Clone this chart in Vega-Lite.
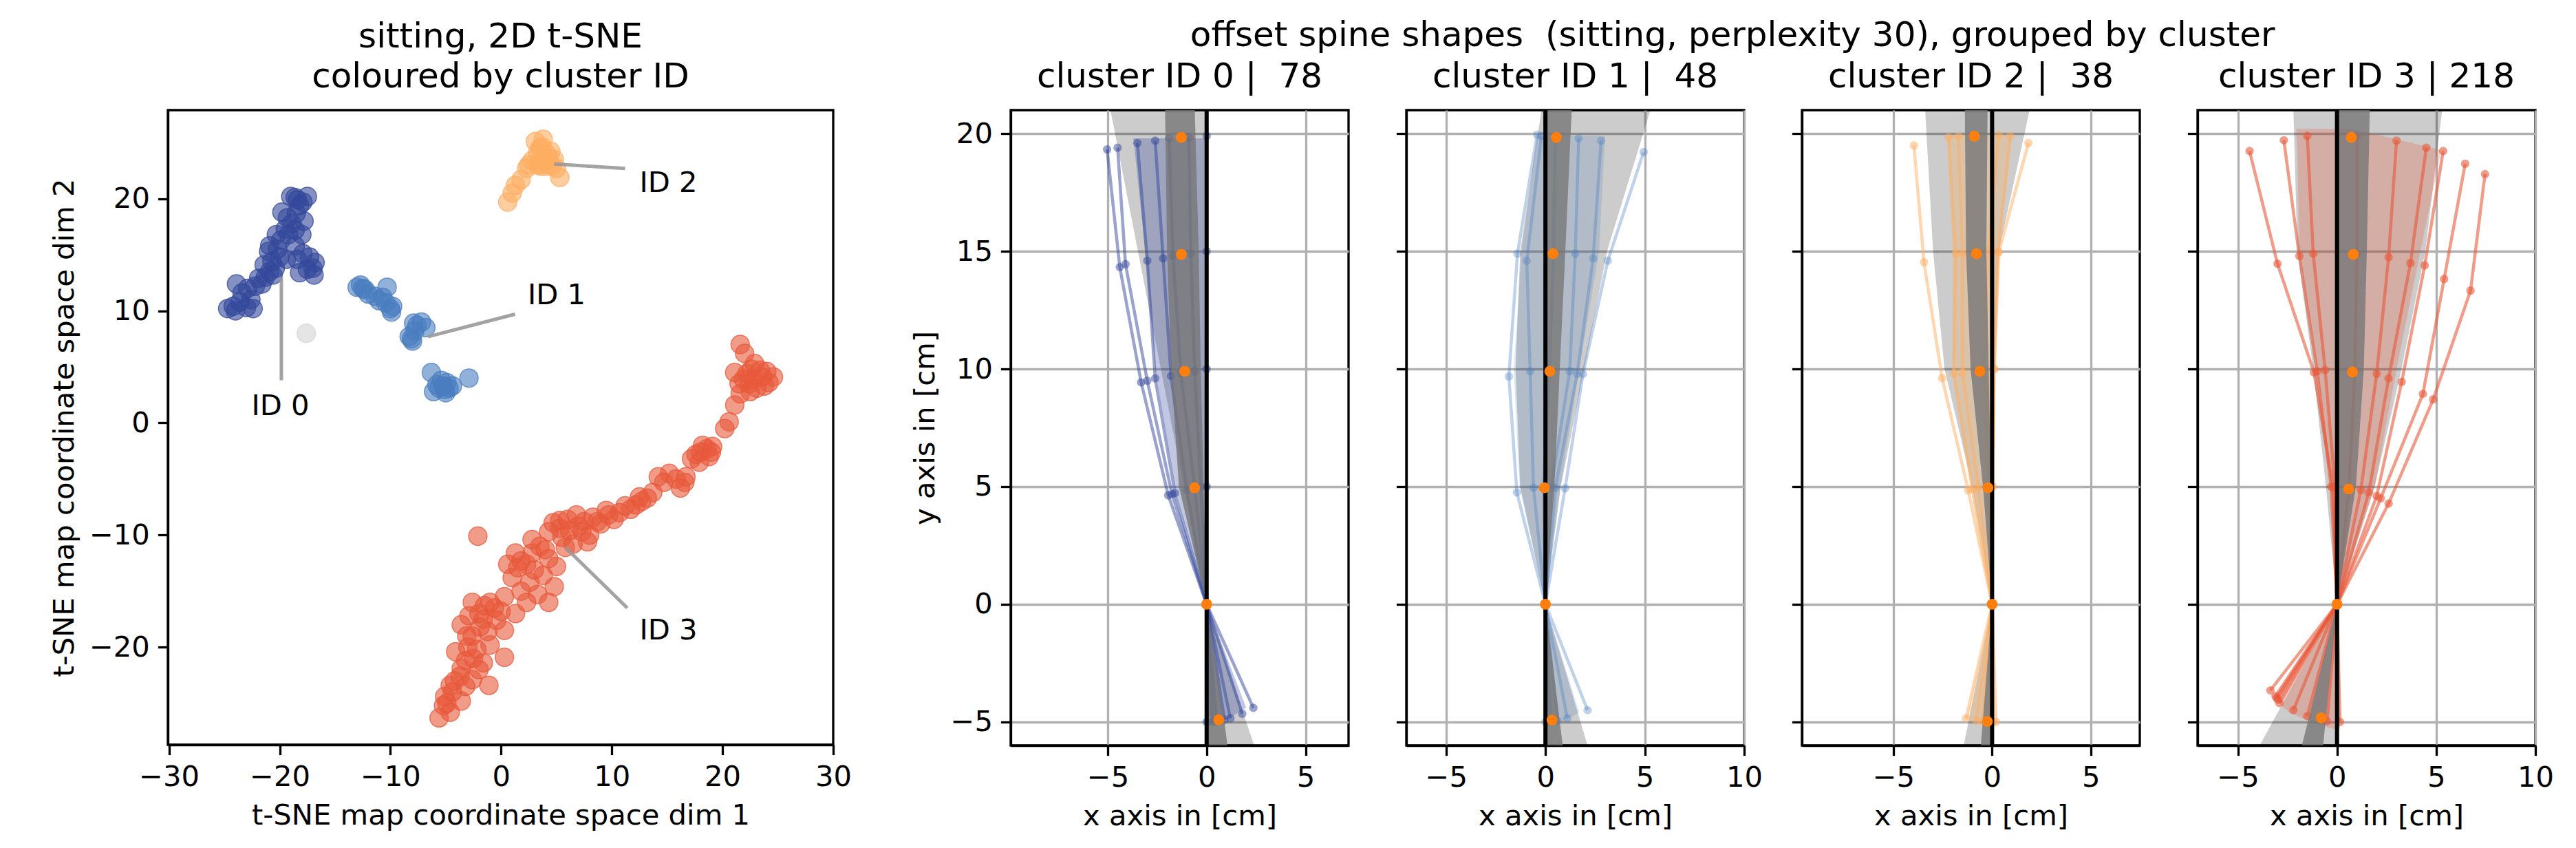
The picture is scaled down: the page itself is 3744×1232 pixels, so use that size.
{
"$schema": "https://vega.github.io/schema/vega-lite/v6.json",
"background": "white",
"autosize": {"type": "pad"},
"padding": {"left": 71, "top": 27, "right": 15, "bottom": 10},
"config": {
  "font": "DejaVu Sans",
  "view": {"stroke": "black", "strokeWidth": 3.3},
  "axis": {"domainColor": "black", "domainWidth": 3.3, "tickColor": "black", "tickWidth": 3.3, "tickSize": 14.6, "labelFontSize": 41.7, "labelColor": "black", "labelFont": "DejaVu Sans", "labelPadding": 12, "titleFontSize": 41.7, "titleFontWeight": "normal", "titleColor": "black", "titleFont": "DejaVu Sans", "titlePadding": 14, "gridColor": "#b0b0b0", "gridWidth": 3.3, "labelFlush": false, "labelOverlap": false},
  "title": {"fontSize": 50, "fontWeight": "normal", "font": "DejaVu Sans", "color": "black", "anchor": "middle"}
},
"datasets": {
  "scatter": [
    {"c":"0","x":-24.7,"y":10.2},{"c":"0","x":-24.2,"y":10.4},{"c":"0","x":-23.0,"y":10.3},{"c":"0","x":-22.4,"y":10.2},{"c":"0","x":-22.6,"y":11.0},{"c":"0","x":-23.9,"y":12.4},{"c":"0","x":-23.4,"y":11.6},{"c":"0","x":-22.9,"y":12.0},{"c":"0","x":-21.9,"y":12.9},{"c":"0","x":-22.2,"y":12.2},{"c":"0","x":-21.3,"y":13.0},{"c":"0","x":-20.9,"y":13.5},{"c":"0","x":-20.4,"y":13.8},{"c":"0","x":-20.7,"y":14.4},{"c":"0","x":-21.0,"y":15.3},{"c":"0","x":-20.9,"y":15.8},{"c":"0","x":-20.2,"y":15.5},{"c":"0","x":-19.9,"y":16.3},{"c":"0","x":-19.5,"y":17.3},{"c":"0","x":-19.2,"y":16.8},{"c":"0","x":-18.9,"y":17.8},{"c":"0","x":-18.5,"y":18.7},{"c":"0","x":-19.3,"y":18.3},{"c":"0","x":-18.2,"y":19.4},{"c":"0","x":-19.0,"y":20.2},{"c":"0","x":-18.6,"y":20.1},{"c":"0","x":-17.5,"y":20.2},{"c":"0","x":-17.9,"y":19.7},{"c":"0","x":-18.0,"y":16.8},{"c":"0","x":-18.6,"y":15.8},{"c":"0","x":-17.9,"y":15.1},{"c":"0","x":-17.0,"y":13.8},{"c":"0","x":-16.8,"y":14.3},{"c":"0","x":-18.2,"y":13.4},{"c":"0","x":-17.5,"y":13.7},{"c":"0","x":-19.4,"y":14.6},{"c":"0","x":-20.0,"y":14.8},
    {"c":"0","x":-24.0,"y":10.0},{"c":"0","x":-23.6,"y":10.8},{"c":"0","x":-21.6,"y":12.4},{"c":"0","x":-20.6,"y":13.2},{"c":"0","x":-21.4,"y":14.1},{"c":"0","x":-20.3,"y":16.8},{"c":"0","x":-19.8,"y":18.8},{"c":"0","x":-18.4,"y":19.9},{"c":"0","x":-17.8,"y":18.0},{"c":"0","x":-18.6,"y":17.2},{"c":"0","x":-17.3,"y":14.8},{"c":"0","x":-16.9,"y":13.2},{"c":"0","x":-18.4,"y":14.6},
    {"c":"1","x":-13.0,"y":12.1},{"c":"1","x":-12.5,"y":12.0},{"c":"1","x":-12.3,"y":11.9},{"c":"1","x":-12.0,"y":11.5},{"c":"1","x":-10.3,"y":12.1},{"c":"1","x":-11.0,"y":10.9},{"c":"1","x":-11.4,"y":11.3},{"c":"1","x":-10.4,"y":10.7},{"c":"1","x":-10.0,"y":10.2},{"c":"1","x":-9.8,"y":10.4},{"c":"1","x":-7.6,"y":8.7},{"c":"1","x":-6.8,"y":8.5},{"c":"1","x":-7.2,"y":9.0},{"c":"1","x":-8.3,"y":7.7},{"c":"1","x":-8.1,"y":7.5},{"c":"1","x":-7.8,"y":8.2},{"c":"1","x":-6.3,"y":4.5},{"c":"1","x":-5.6,"y":3.1},{"c":"1","x":-5.2,"y":3.3},{"c":"1","x":-4.9,"y":3.6},{"c":"1","x":-6.1,"y":2.8},{"c":"1","x":-5.0,"y":2.7},{"c":"1","x":-4.4,"y":3.3},{"c":"1","x":-2.9,"y":4.0},{"c":"1","x":-5.4,"y":3.8},
    {"c":"1","x":-12.7,"y":12.3},{"c":"1","x":-10.7,"y":11.2},{"c":"1","x":-9.9,"y":9.9},{"c":"1","x":-7.9,"y":8.9},{"c":"1","x":-8.0,"y":7.3},{"c":"1","x":-5.8,"y":3.4},{"c":"1","x":-5.1,"y":3.0},{"c":"1","x":-4.7,"y":3.1},
    {"c":"2","x":3.8,"y":25.3},{"c":"2","x":3.3,"y":24.1},{"c":"2","x":3.7,"y":24.6},{"c":"2","x":4.3,"y":23.6},{"c":"2","x":4.5,"y":24.2},{"c":"2","x":5.0,"y":22.7},{"c":"2","x":5.3,"y":21.9},{"c":"2","x":4.0,"y":22.9},{"c":"2","x":2.8,"y":23.4},{"c":"2","x":2.3,"y":22.7},{"c":"2","x":1.8,"y":21.7},{"c":"2","x":1.3,"y":21.2},{"c":"2","x":0.6,"y":19.7},{"c":"2","x":3.6,"y":22.9},{"c":"2","x":3.1,"y":25.1},{"c":"2","x":4.8,"y":23.5},{"c":"2","x":3.3,"y":23.0},
    {"c":"2","x":3.5,"y":24.5},{"c":"2","x":4.1,"y":24.0},{"c":"2","x":3.9,"y":23.3},{"c":"2","x":4.6,"y":22.9},{"c":"2","x":2.5,"y":23.0},{"c":"2","x":1.0,"y":20.5},
    {"c":"-1","x":-17.6,"y":8.0},
    {"c":"3","x":21.6,"y":7.0},{"c":"3","x":22.0,"y":6.2},{"c":"3","x":22.6,"y":4.8},{"c":"3","x":21.1,"y":4.5},{"c":"3","x":23.6,"y":4.1},{"c":"3","x":24.6,"y":4.1},{"c":"3","x":23.1,"y":3.1},{"c":"3","x":21.6,"y":2.6},{"c":"3","x":22.4,"y":3.5},{"c":"3","x":23.8,"y":3.3},{"c":"3","x":22.2,"y":4.4},{"c":"3","x":24.0,"y":4.6},{"c":"3","x":21.1,"y":1.6},{"c":"3","x":20.6,"y":0.1},{"c":"3","x":22.5,"y":2.8},
    {"c":"3","x":21.5,"y":3.5},{"c":"3","x":22.8,"y":3.9},{"c":"3","x":23.4,"y":4.7},{"c":"3","x":24.2,"y":3.6},{"c":"3","x":22.9,"y":5.3},{"c":"3","x":21.9,"y":3.9},{"c":"3","x":20.2,"y":-0.5},
    {"c":"3","x":18.6,"y":-2.3},{"c":"3","x":17.6,"y":-2.8},{"c":"3","x":19.1,"y":-2.1},{"c":"3","x":18.2,"y":-2.0},{"c":"3","x":18.8,"y":-3.0},{"c":"3","x":17.9,"y":-3.5},{"c":"3","x":16.7,"y":-4.8},{"c":"3","x":16.2,"y":-5.8},{"c":"3","x":16.6,"y":-5.3},{"c":"3","x":14.2,"y":-4.8},{"c":"3","x":15.2,"y":-4.5},
    {"c":"3","x":17.2,"y":-3.2},{"c":"3","x":18.0,"y":-2.6},{"c":"3","x":19.0,"y":-2.6},{"c":"3","x":14.7,"y":-5.3},{"c":"3","x":15.8,"y":-5.0},
    {"c":"3","x":13.2,"y":-6.7},{"c":"3","x":12.7,"y":-7.0},{"c":"3","x":11.7,"y":-7.7},{"c":"3","x":12.2,"y":-7.3},{"c":"3","x":10.7,"y":-8.0},{"c":"3","x":9.7,"y":-8.2},{"c":"3","x":8.3,"y":-8.4},{"c":"3","x":9.0,"y":-9.0},{"c":"3","x":6.8,"y":-8.2},{"c":"3","x":7.5,"y":-8.8},{"c":"3","x":5.3,"y":-8.7},{"c":"3","x":7.3,"y":-9.7},{"c":"3","x":8.0,"y":-10.0},{"c":"3","x":6.2,"y":-9.6},{"c":"3","x":4.3,"y":-9.7},{"c":"3","x":5.5,"y":-10.2},{"c":"3","x":2.8,"y":-10.4},{"c":"3","x":3.5,"y":-11.0},{"c":"3","x":1.3,"y":-11.6},{"c":"3","x":1.8,"y":-12.3},{"c":"3","x":2.3,"y":-12.6},{"c":"3","x":4.3,"y":-12.1},{"c":"3","x":5.8,"y":-11.1},{"c":"3","x":7.8,"y":-10.6},{"c":"3","x":6.5,"y":-10.8},{"c":"3","x":3.8,"y":-13.6},{"c":"3","x":4.8,"y":-14.6},{"c":"3","x":2.3,"y":-16.0},{"c":"3","x":1.3,"y":-17.0},{"c":"3","x":3.3,"y":-15.3},{"c":"3","x":4.3,"y":-16.0},{"c":"3","x":0.3,"y":-15.5},{"c":"3","x":0.6,"y":-12.6},{"c":"3","x":1.0,"y":-13.8},
    {"c":"3","x":1.8,"y":-15.0},{"c":"3","x":2.6,"y":-14.2},{"c":"3","x":3.0,"y":-13.1},{"c":"3","x":1.5,"y":-12.9},{"c":"3","x":2.8,"y":-11.6},{"c":"3","x":4.0,"y":-11.3},{"c":"3","x":5.0,"y":-12.8},{"c":"3","x":5.3,"y":-9.4},{"c":"3","x":4.7,"y":-8.9},{"c":"3","x":6.0,"y":-8.6},{"c":"3","x":7.0,"y":-9.2},{"c":"3","x":8.7,"y":-8.8},{"c":"3","x":9.5,"y":-7.8},{"c":"3","x":10.2,"y":-8.6},{"c":"3","x":11.2,"y":-7.4},{"c":"3","x":12.5,"y":-6.6},{"c":"3","x":13.7,"y":-6.2},
    {"c":"3","x":-2.1,"y":-10.1},
    {"c":"3","x":-2.6,"y":-16.0},{"c":"3","x":-0.6,"y":-16.5},{"c":"3","x":-1.6,"y":-17.5},{"c":"3","x":-1.0,"y":-16.0},{"c":"3","x":-2.0,"y":-17.0},{"c":"3","x":-3.6,"y":-18.0},{"c":"3","x":0.3,"y":-18.5},{"c":"3","x":-2.6,"y":-19.0},{"c":"3","x":-1.2,"y":-18.6},{"c":"3","x":-4.1,"y":-20.4},{"c":"3","x":-3.0,"y":-20.0},{"c":"3","x":0.3,"y":-20.9},{"c":"3","x":-1.6,"y":-21.4},{"c":"3","x":-3.6,"y":-21.9},{"c":"3","x":-2.5,"y":-21.0},{"c":"3","x":-1.1,"y":-23.4},{"c":"3","x":-4.6,"y":-23.4},{"c":"3","x":-2.6,"y":-22.9},{"c":"3","x":-3.7,"y":-22.6},{"c":"3","x":-5.1,"y":-24.4},{"c":"3","x":-3.6,"y":-24.8},{"c":"3","x":-4.4,"y":-24.0},{"c":"3","x":-5.6,"y":-26.3},{"c":"3","x":-4.6,"y":-25.8},{"c":"3","x":-5.2,"y":-25.2},
    {"c":"3","x":-4.9,"y":-25.0},{"c":"3","x":-4.2,"y":-23.0},{"c":"3","x":-3.2,"y":-23.5},{"c":"3","x":-2.0,"y":-22.0},{"c":"3","x":-3.2,"y":-21.2},{"c":"3","x":-2.2,"y":-20.2},{"c":"3","x":-1.0,"y":-19.8},{"c":"3","x":-3.1,"y":-19.0},{"c":"3","x":-1.9,"y":-18.2},{"c":"3","x":-0.4,"y":-17.6},{"c":"3","x":-2.9,"y":-17.2},{"c":"3","x":-1.5,"y":-16.3},{"c":"3","x":0.0,"y":-16.8}
  ],
  "annot": [
    {"label":"ID 0","x1":-19.85,"y1":12.9,"x2":-19.85,"y2":3.8,"tx":-22.55,"ty":1.5},
    {"label":"ID 1","x1":-6.6,"y1":7.7,"x2":1.25,"y2":9.7,"tx":2.4,"ty":11.4},
    {"label":"ID 2","x1":4.8,"y1":23.1,"x2":11.2,"y2":22.7,"tx":12.5,"ty":21.4},
    {"label":"ID 3","x1":5.8,"y1":-11.1,"x2":11.4,"y2":-16.5,"tx":12.5,"ty":-18.5}
  ],
  "polys": [
    {"cl":0,"b":"light","k":0,"x":0.05,"y":-6},{"cl":0,"b":"light","k":1,"x":0,"y":0},{"cl":0,"b":"light","k":2,"x":-4.86,"y":21},{"cl":0,"b":"light","k":3,"x":-0.1,"y":21},{"cl":0,"b":"light","k":4,"x":0,"y":0},{"cl":0,"b":"light","k":5,"x":2.4,"y":-6},
    {"cl":0,"b":"dark","k":0,"x":0,"y":-6},{"cl":0,"b":"dark","k":1,"x":0,"y":0},{"cl":0,"b":"dark","k":2,"x":-1.4,"y":5},{"cl":0,"b":"dark","k":3,"x":-1.8,"y":10},{"cl":0,"b":"dark","k":4,"x":-2.0,"y":15},{"cl":0,"b":"dark","k":5,"x":-2.1,"y":21},{"cl":0,"b":"dark","k":6,"x":-0.6,"y":21},{"cl":0,"b":"dark","k":7,"x":-0.4,"y":15},{"cl":0,"b":"dark","k":8,"x":-0.3,"y":10},{"cl":0,"b":"dark","k":9,"x":-0.15,"y":5},{"cl":0,"b":"dark","k":10,"x":0,"y":0},{"cl":0,"b":"dark","k":11,"x":0.9,"y":-5},{"cl":0,"b":"dark","k":12,"x":1.05,"y":-6},
    {"cl":0,"b":"mass","k":0,"x":0,"y":-5.05},{"cl":0,"b":"mass","k":1,"x":0,"y":0},{"cl":0,"b":"mass","k":2,"x":-1.6,"y":5},{"cl":0,"b":"mass","k":3,"x":-2.6,"y":10},{"cl":0,"b":"mass","k":4,"x":-3.1,"y":15},{"cl":0,"b":"mass","k":5,"x":-3.7,"y":19.8},{"cl":0,"b":"mass","k":6,"x":0,"y":19.8},{"cl":0,"b":"mass","k":7,"x":0,"y":0},{"cl":0,"b":"mass","k":8,"x":2.0,"y":-4.4},{"cl":0,"b":"mass","k":9,"x":1.0,"y":-4.9},{"cl":0,"b":"mass","k":10,"x":0.2,"y":-5.05},
    {"cl":1,"b":"light","k":0,"x":0,"y":-6},{"cl":1,"b":"light","k":1,"x":0,"y":0},{"cl":1,"b":"light","k":2,"x":-1.27,"y":5},{"cl":1,"b":"light","k":3,"x":-1.5,"y":10},{"cl":1,"b":"light","k":4,"x":-1.27,"y":15},{"cl":1,"b":"light","k":5,"x":-0.2,"y":21},{"cl":1,"b":"light","k":6,"x":5.28,"y":21},{"cl":1,"b":"light","k":7,"x":3.1,"y":15},{"cl":1,"b":"light","k":8,"x":1.95,"y":10},{"cl":1,"b":"light","k":9,"x":0.77,"y":5},{"cl":1,"b":"light","k":10,"x":0,"y":0},{"cl":1,"b":"light","k":11,"x":2.12,"y":-6},
    {"cl":1,"b":"dark","k":0,"x":-0.05,"y":-6},{"cl":1,"b":"dark","k":1,"x":0,"y":0},{"cl":1,"b":"dark","k":2,"x":-0.03,"y":5},{"cl":1,"b":"dark","k":3,"x":-0.05,"y":10},{"cl":1,"b":"dark","k":4,"x":-0.08,"y":15},{"cl":1,"b":"dark","k":5,"x":-0.1,"y":21},{"cl":1,"b":"dark","k":6,"x":1.32,"y":21},{"cl":1,"b":"dark","k":7,"x":1.0,"y":15},{"cl":1,"b":"dark","k":8,"x":0.72,"y":10},{"cl":1,"b":"dark","k":9,"x":0.45,"y":5},{"cl":1,"b":"dark","k":10,"x":0,"y":0},{"cl":1,"b":"dark","k":11,"x":0.87,"y":-6},
    {"cl":1,"b":"mass","k":0,"x":0,"y":-5.05},{"cl":1,"b":"mass","k":1,"x":0,"y":0},{"cl":1,"b":"mass","k":2,"x":-1.3,"y":5},{"cl":1,"b":"mass","k":3,"x":-1.6,"y":10},{"cl":1,"b":"mass","k":4,"x":-1.2,"y":15},{"cl":1,"b":"mass","k":5,"x":-0.45,"y":19.9},{"cl":1,"b":"mass","k":6,"x":3.0,"y":19.9},{"cl":1,"b":"mass","k":7,"x":2.7,"y":15},{"cl":1,"b":"mass","k":8,"x":1.7,"y":10},{"cl":1,"b":"mass","k":9,"x":0.75,"y":5},{"cl":1,"b":"mass","k":10,"x":0,"y":0},{"cl":1,"b":"mass","k":11,"x":1.7,"y":-4.6},{"cl":1,"b":"mass","k":12,"x":0.8,"y":-5.0},{"cl":1,"b":"mass","k":13,"x":0.2,"y":-5.05},
    {"cl":2,"b":"light","k":0,"x":-1.44,"y":-6},{"cl":2,"b":"light","k":1,"x":0,"y":0},{"cl":2,"b":"light","k":2,"x":-1.0,"y":5},{"cl":2,"b":"light","k":3,"x":-2.41,"y":10},{"cl":2,"b":"light","k":4,"x":-2.99,"y":15},{"cl":2,"b":"light","k":5,"x":-3.39,"y":21},{"cl":2,"b":"light","k":6,"x":1.9,"y":21},{"cl":2,"b":"light","k":7,"x":0.34,"y":15},{"cl":2,"b":"light","k":8,"x":0.1,"y":10},{"cl":2,"b":"light","k":9,"x":0,"y":5},{"cl":2,"b":"light","k":10,"x":0,"y":0},{"cl":2,"b":"light","k":11,"x":0,"y":-6},
    {"cl":2,"b":"dark","k":0,"x":-0.57,"y":-6},{"cl":2,"b":"dark","k":1,"x":0,"y":0},{"cl":2,"b":"dark","k":2,"x":-0.46,"y":5},{"cl":2,"b":"dark","k":3,"x":-1.09,"y":10},{"cl":2,"b":"dark","k":4,"x":-1.32,"y":15},{"cl":2,"b":"dark","k":5,"x":-1.38,"y":21},{"cl":2,"b":"dark","k":6,"x":-0.23,"y":21},{"cl":2,"b":"dark","k":7,"x":-0.29,"y":15},{"cl":2,"b":"dark","k":8,"x":-0.17,"y":10},{"cl":2,"b":"dark","k":9,"x":-0.06,"y":5},{"cl":2,"b":"dark","k":10,"x":0,"y":0},{"cl":2,"b":"dark","k":11,"x":-0.11,"y":-6},
    {"cl":2,"b":"mass","k":0,"x":-0.6,"y":-5.0},{"cl":2,"b":"mass","k":1,"x":-1.3,"y":-4.9},{"cl":2,"b":"mass","k":2,"x":0,"y":0},{"cl":2,"b":"mass","k":3,"x":-1.1,"y":5},{"cl":2,"b":"mass","k":4,"x":-2.0,"y":10},{"cl":2,"b":"mass","k":5,"x":-2.0,"y":15},{"cl":2,"b":"mass","k":6,"x":-2.3,"y":19.95},{"cl":2,"b":"mass","k":7,"x":1.0,"y":19.95},{"cl":2,"b":"mass","k":8,"x":0.3,"y":15},{"cl":2,"b":"mass","k":9,"x":0.1,"y":10},{"cl":2,"b":"mass","k":10,"x":0,"y":5},{"cl":2,"b":"mass","k":11,"x":0,"y":0},{"cl":2,"b":"mass","k":12,"x":0.1,"y":-5.0},
    {"cl":3,"b":"light","k":0,"x":-3.9,"y":-6},{"cl":3,"b":"light","k":1,"x":0,"y":0},{"cl":3,"b":"light","k":2,"x":-0.56,"y":5},{"cl":3,"b":"light","k":3,"x":-1.2,"y":10},{"cl":3,"b":"light","k":4,"x":-2.0,"y":15},{"cl":3,"b":"light","k":5,"x":-2.2,"y":21},{"cl":3,"b":"light","k":6,"x":5.3,"y":21},{"cl":3,"b":"light","k":7,"x":4.45,"y":15},{"cl":3,"b":"light","k":8,"x":3.25,"y":10},{"cl":3,"b":"light","k":9,"x":1.9,"y":5},{"cl":3,"b":"light","k":10,"x":0,"y":0},{"cl":3,"b":"light","k":11,"x":0,"y":-6},
    {"cl":3,"b":"dark","k":0,"x":-1.77,"y":-6},{"cl":3,"b":"dark","k":1,"x":0,"y":0},{"cl":3,"b":"dark","k":2,"x":0,"y":5},{"cl":3,"b":"dark","k":3,"x":-0.1,"y":10},{"cl":3,"b":"dark","k":4,"x":-0.1,"y":15},{"cl":3,"b":"dark","k":5,"x":-0.1,"y":21},{"cl":3,"b":"dark","k":6,"x":1.65,"y":21},{"cl":3,"b":"dark","k":7,"x":1.5,"y":15},{"cl":3,"b":"dark","k":8,"x":1.35,"y":10},{"cl":3,"b":"dark","k":9,"x":0.95,"y":5},{"cl":3,"b":"dark","k":10,"x":0,"y":0},{"cl":3,"b":"dark","k":11,"x":-0.7,"y":-6},
    {"cl":3,"b":"mass","k":0,"x":-0.2,"y":-5.3},{"cl":3,"b":"mass","k":1,"x":-1.3,"y":-5.0},{"cl":3,"b":"mass","k":2,"x":-2.4,"y":-4.6},{"cl":3,"b":"mass","k":3,"x":-3.2,"y":-4.0},{"cl":3,"b":"mass","k":4,"x":0,"y":0},{"cl":3,"b":"mass","k":5,"x":-0.3,"y":5},{"cl":3,"b":"mass","k":6,"x":-1.0,"y":10},{"cl":3,"b":"mass","k":7,"x":-1.9,"y":15},{"cl":3,"b":"mass","k":8,"x":-2.0,"y":19.3},{"cl":3,"b":"mass","k":9,"x":-2.05,"y":20.2},{"cl":3,"b":"mass","k":10,"x":0.8,"y":20.2},{"cl":3,"b":"mass","k":11,"x":5.25,"y":19.3},{"cl":3,"b":"mass","k":12,"x":4.2,"y":15},{"cl":3,"b":"mass","k":13,"x":3.0,"y":10},{"cl":3,"b":"mass","k":14,"x":1.9,"y":5},{"cl":3,"b":"mass","k":15,"x":0,"y":0},{"cl":3,"b":"mass","k":16,"x":0.15,"y":-5.3}
  ],
  "means": [
    {"cl":0,"x":-1.28,"y":19.84},{"cl":0,"x":-1.28,"y":14.87},{"cl":0,"x":-1.11,"y":9.9},{"cl":0,"x":-0.61,"y":4.95},{"cl":0,"x":0,"y":0},{"cl":0,"x":0.61,"y":-4.91},
    {"cl":1,"x":0.55,"y":19.84},{"cl":1,"x":0.38,"y":14.9},{"cl":1,"x":0.22,"y":9.9},{"cl":1,"x":-0.06,"y":4.95},{"cl":1,"x":0,"y":0},{"cl":1,"x":0.33,"y":-4.92},
    {"cl":2,"x":-0.9,"y":19.89},{"cl":2,"x":-0.79,"y":14.9},{"cl":2,"x":-0.62,"y":9.9},{"cl":2,"x":-0.21,"y":4.95},{"cl":2,"x":0,"y":0},{"cl":2,"x":-0.24,"y":-4.98},
    {"cl":3,"x":0.72,"y":19.84},{"cl":3,"x":0.82,"y":14.87},{"cl":3,"x":0.78,"y":9.87},{"cl":3,"x":0.58,"y":4.9},{"cl":3,"x":0,"y":0},{"cl":3,"x":-0.8,"y":-4.83}
  ],
  "spines": [
    {"cl":0,"s":"a","i":0,"x":-5.03,"y":19.33},{"cl":0,"s":"a","i":1,"x":-4.39,"y":14.33},{"cl":0,"s":"a","i":2,"x":-3.31,"y":9.43},{"cl":0,"s":"a","i":3,"x":-1.94,"y":4.63},{"cl":0,"s":"a","i":4,"x":0,"y":0},{"cl":0,"s":"a","i":5,"x":2.36,"y":-4.4},
    {"cl":0,"s":"b","i":0,"x":-4.5,"y":19.4},{"cl":0,"s":"b","i":1,"x":-4.1,"y":14.45},{"cl":0,"s":"b","i":2,"x":-3.0,"y":9.5},{"cl":0,"s":"b","i":3,"x":-1.75,"y":4.68},{"cl":0,"s":"b","i":4,"x":0,"y":0},{"cl":0,"s":"b","i":5,"x":1.8,"y":-4.65},
    {"cl":0,"s":"c","i":0,"x":-3.5,"y":19.6},{"cl":0,"s":"c","i":1,"x":-3.0,"y":14.6},{"cl":0,"s":"c","i":2,"x":-2.6,"y":9.6},{"cl":0,"s":"c","i":3,"x":-1.6,"y":4.72},{"cl":0,"s":"c","i":4,"x":0,"y":0},{"cl":0,"s":"c","i":5,"x":1.2,"y":-4.85},
    {"cl":0,"s":"d","i":0,"x":-2.6,"y":19.7},{"cl":0,"s":"d","i":1,"x":-2.2,"y":14.7},{"cl":0,"s":"d","i":2,"x":-1.8,"y":9.7},{"cl":0,"s":"d","i":3,"x":-1.0,"y":4.85},{"cl":0,"s":"d","i":4,"x":0,"y":0},{"cl":0,"s":"d","i":5,"x":0.9,"y":-4.9},
    {"cl":0,"s":"e","i":0,"x":-1.9,"y":19.8},{"cl":0,"s":"e","i":1,"x":-1.7,"y":14.8},{"cl":0,"s":"e","i":2,"x":-1.3,"y":9.8},{"cl":0,"s":"e","i":3,"x":-0.6,"y":4.95},{"cl":0,"s":"e","i":4,"x":0,"y":0},{"cl":0,"s":"e","i":5,"x":0.5,"y":-4.95},
    {"cl":0,"s":"f","i":0,"x":-0.9,"y":19.85},{"cl":0,"s":"f","i":1,"x":-0.8,"y":14.9},{"cl":0,"s":"f","i":2,"x":-0.6,"y":9.9},{"cl":0,"s":"f","i":3,"x":-0.3,"y":5.0},{"cl":0,"s":"f","i":4,"x":0,"y":0},{"cl":0,"s":"f","i":5,"x":0.3,"y":-5.0},
    {"cl":0,"s":"g","i":0,"x":0,"y":19.9},{"cl":0,"s":"g","i":1,"x":0,"y":15.0},{"cl":0,"s":"g","i":2,"x":0,"y":10.0},{"cl":0,"s":"g","i":3,"x":0,"y":5.0},{"cl":0,"s":"g","i":4,"x":0,"y":0},{"cl":0,"s":"g","i":5,"x":0,"y":-5.0},
    {"cl":1,"s":"a","i":0,"x":4.94,"y":19.22},{"cl":1,"s":"a","i":1,"x":3.14,"y":14.6},{"cl":1,"s":"a","i":2,"x":1.89,"y":9.79},{"cl":1,"s":"a","i":3,"x":0.99,"y":4.93},{"cl":1,"s":"a","i":4,"x":0,"y":0},{"cl":1,"s":"a","i":5,"x":2.12,"y":-4.5},
    {"cl":1,"s":"b","i":0,"x":-0.42,"y":19.96},{"cl":1,"s":"b","i":1,"x":-1.41,"y":14.9},{"cl":1,"s":"b","i":2,"x":-1.84,"y":9.68},{"cl":1,"s":"b","i":3,"x":-1.44,"y":4.75},{"cl":1,"s":"b","i":4,"x":0,"y":0},{"cl":1,"s":"b","i":5,"x":0,"y":-5.0},
    {"cl":1,"s":"c","i":0,"x":2.8,"y":19.7},{"cl":1,"s":"c","i":1,"x":2.4,"y":14.7},{"cl":1,"s":"c","i":2,"x":1.6,"y":9.8},{"cl":1,"s":"c","i":3,"x":0.5,"y":4.95},{"cl":1,"s":"c","i":4,"x":0,"y":0},{"cl":1,"s":"c","i":5,"x":1.1,"y":-4.85},
    {"cl":1,"s":"d","i":0,"x":1.67,"y":19.8},{"cl":1,"s":"d","i":1,"x":1.5,"y":14.9},{"cl":1,"s":"d","i":2,"x":1.22,"y":9.9},{"cl":1,"s":"d","i":3,"x":0.3,"y":5.0},{"cl":1,"s":"d","i":4,"x":0,"y":0},{"cl":1,"s":"d","i":5,"x":0.6,"y":-4.95},
    {"cl":1,"s":"e","i":0,"x":-0.2,"y":19.9},{"cl":1,"s":"e","i":1,"x":-0.94,"y":14.6},{"cl":1,"s":"e","i":2,"x":-0.77,"y":9.9},{"cl":1,"s":"e","i":3,"x":-0.6,"y":4.95},{"cl":1,"s":"e","i":4,"x":0,"y":0},{"cl":1,"s":"e","i":5,"x":0.2,"y":-5.0},
    {"cl":1,"s":"f","i":0,"x":0.5,"y":19.9},{"cl":1,"s":"f","i":1,"x":0.4,"y":14.9},{"cl":1,"s":"f","i":2,"x":0.2,"y":9.9},{"cl":1,"s":"f","i":3,"x":-0.1,"y":5.0},{"cl":1,"s":"f","i":4,"x":0,"y":0},{"cl":1,"s":"f","i":5,"x":0.3,"y":-5.0},
    {"cl":2,"s":"a","i":0,"x":-3.96,"y":19.5},{"cl":2,"s":"a","i":1,"x":-3.45,"y":14.54},{"cl":2,"s":"a","i":2,"x":-2.53,"y":9.61},{"cl":2,"s":"a","i":3,"x":-1.21,"y":4.84},{"cl":2,"s":"a","i":4,"x":0,"y":0},{"cl":2,"s":"a","i":5,"x":-1.32,"y":-4.85},
    {"cl":2,"s":"b","i":0,"x":1.84,"y":19.6},{"cl":2,"s":"b","i":1,"x":0.34,"y":14.98},{"cl":2,"s":"b","i":2,"x":0.11,"y":10.0},{"cl":2,"s":"b","i":3,"x":0.05,"y":5.0},{"cl":2,"s":"b","i":4,"x":0,"y":0},{"cl":2,"s":"b","i":5,"x":0.05,"y":-5.0},
    {"cl":2,"s":"c","i":0,"x":-2.2,"y":19.85},{"cl":2,"s":"c","i":1,"x":-1.84,"y":14.9},{"cl":2,"s":"c","i":2,"x":-1.95,"y":9.8},{"cl":2,"s":"c","i":3,"x":-1.0,"y":4.9},{"cl":2,"s":"c","i":4,"x":0,"y":0},{"cl":2,"s":"c","i":5,"x":-0.8,"y":-4.95},
    {"cl":2,"s":"d","i":0,"x":-1.7,"y":19.9},{"cl":2,"s":"d","i":1,"x":-1.5,"y":14.9},{"cl":2,"s":"d","i":2,"x":-1.5,"y":9.85},{"cl":2,"s":"d","i":3,"x":-0.7,"y":4.95},{"cl":2,"s":"d","i":4,"x":0,"y":0},{"cl":2,"s":"d","i":5,"x":-0.5,"y":-5.0},
    {"cl":2,"s":"e","i":0,"x":0.34,"y":19.95},{"cl":2,"s":"e","i":1,"x":-0.2,"y":15.0},{"cl":2,"s":"e","i":2,"x":-0.4,"y":9.95},{"cl":2,"s":"e","i":3,"x":-0.2,"y":5.0},{"cl":2,"s":"e","i":4,"x":0,"y":0},{"cl":2,"s":"e","i":5,"x":0.2,"y":-5.0},
    {"cl":2,"s":"f","i":0,"x":0.92,"y":19.9},{"cl":2,"s":"f","i":1,"x":0.3,"y":14.95},{"cl":2,"s":"f","i":2,"x":0.1,"y":10.0},{"cl":2,"s":"f","i":3,"x":0.0,"y":5.0},{"cl":2,"s":"f","i":4,"x":0,"y":0},{"cl":2,"s":"f","i":5,"x":-0.1,"y":-5.0},
    {"cl":3,"s":"a","i":0,"x":-4.41,"y":19.26},{"cl":3,"s":"a","i":1,"x":-3.0,"y":14.47},{"cl":3,"s":"a","i":2,"x":-1.16,"y":9.85},{"cl":3,"s":"a","i":3,"x":-0.2,"y":4.95},{"cl":3,"s":"a","i":4,"x":0,"y":0},{"cl":3,"s":"a","i":5,"x":-3.36,"y":-3.66},
    {"cl":3,"s":"b","i":0,"x":-2.68,"y":19.72},{"cl":3,"s":"b","i":1,"x":-1.9,"y":14.8},{"cl":3,"s":"b","i":2,"x":-1.0,"y":9.9},{"cl":3,"s":"b","i":3,"x":-0.3,"y":5.0},{"cl":3,"s":"b","i":4,"x":0,"y":0},{"cl":3,"s":"b","i":5,"x":-3.04,"y":-3.98},
    {"cl":3,"s":"c","i":0,"x":5.35,"y":19.26},{"cl":3,"s":"c","i":1,"x":4.42,"y":14.4},{"cl":3,"s":"c","i":2,"x":3.26,"y":9.45},{"cl":3,"s":"c","i":3,"x":2.0,"y":4.6},{"cl":3,"s":"c","i":4,"x":0,"y":0},{"cl":3,"s":"c","i":5,"x":-2.98,"y":-4.05},
    {"cl":3,"s":"d","i":0,"x":6.46,"y":18.72},{"cl":3,"s":"d","i":1,"x":5.4,"y":13.82},{"cl":3,"s":"d","i":2,"x":4.33,"y":8.94},{"cl":3,"s":"d","i":3,"x":2.2,"y":4.5},{"cl":3,"s":"d","i":4,"x":0,"y":0},{"cl":3,"s":"d","i":5,"x":-2.9,"y":-4.2},
    {"cl":3,"s":"e","i":0,"x":7.46,"y":18.28},{"cl":3,"s":"e","i":1,"x":6.73,"y":13.33},{"cl":3,"s":"e","i":2,"x":4.85,"y":8.71},{"cl":3,"s":"e","i":3,"x":2.6,"y":4.28},{"cl":3,"s":"e","i":4,"x":0,"y":0},{"cl":3,"s":"e","i":5,"x":-3.1,"y":-3.9},
    {"cl":3,"s":"f","i":0,"x":-1.5,"y":19.9},{"cl":3,"s":"f","i":1,"x":-1.2,"y":14.9},{"cl":3,"s":"f","i":2,"x":-0.6,"y":9.95},{"cl":3,"s":"f","i":3,"x":-0.1,"y":5.0},{"cl":3,"s":"f","i":4,"x":0,"y":0},{"cl":3,"s":"f","i":5,"x":-1.5,"y":-4.75},
    {"cl":3,"s":"g","i":0,"x":1.0,"y":19.9},{"cl":3,"s":"g","i":1,"x":1.0,"y":14.9},{"cl":3,"s":"g","i":2,"x":0.9,"y":9.9},{"cl":3,"s":"g","i":3,"x":0.6,"y":4.95},{"cl":3,"s":"g","i":4,"x":0,"y":0},{"cl":3,"s":"g","i":5,"x":-0.5,"y":-4.97},
    {"cl":3,"s":"h","i":0,"x":3.0,"y":19.7},{"cl":3,"s":"h","i":1,"x":2.6,"y":14.75},{"cl":3,"s":"h","i":2,"x":2.0,"y":9.8},{"cl":3,"s":"h","i":3,"x":1.2,"y":4.85},{"cl":3,"s":"h","i":4,"x":0,"y":0},{"cl":3,"s":"h","i":5,"x":-2.2,"y":-4.5},
    {"cl":3,"s":"i","i":0,"x":4.5,"y":19.4},{"cl":3,"s":"i","i":1,"x":3.7,"y":14.5},{"cl":3,"s":"i","i":2,"x":2.6,"y":9.6},{"cl":3,"s":"i","i":3,"x":1.6,"y":4.75},{"cl":3,"s":"i","i":4,"x":0,"y":0},{"cl":3,"s":"i","i":5,"x":0.15,"y":-5.0}
  ]
},
"spacing": 258,
"bounds": "flush",
"hconcat": [
  {
    "width": 967, "height": 922,
    "title": {"text": ["sitting, 2D t-SNE", "coloured by cluster ID"], "lineHeight": 58, "baseline": "bottom", "offset": -27},
    "layer": [
      {"data": {"name": "scatter"},
       "mark": {"type": "circle", "size": 720, "fillOpacity": 0.6, "strokeOpacity": 0.75, "strokeWidth": 1.5, "clip": true},
       "encoding": {
         "x": {"field": "x", "type": "quantitative", "scale": {"domain": [-30.1, 30], "nice": false, "zero": false}, "axis": {"values": [-30,-20,-10,0,10,20,30], "grid": false, "title": "t-SNE map coordinate space dim 1"}},
         "y": {"field": "y", "type": "quantitative", "scale": {"domain": [-28.7, 27.9], "nice": false, "zero": false}, "axis": {"values": [-20,-10,0,10,20], "grid": false, "title": "t-SNE map coordinate space dim 2"}},
         "color": {"field": "c", "type": "nominal", "scale": {"domain": ["-1","0","1","2","3"], "range": ["#d4d4d4","#34489b","#4a7dbf","#fdae61","#e8583a"]}, "legend": null},
         "stroke": {"field": "c", "type": "nominal", "scale": {"domain": ["-1","0","1","2","3"], "range": ["#d4d4d4","#34489b","#4a7dbf","#fdae61","#e8583a"]}, "legend": null}
       }},
      {"data": {"name": "annot"},
       "mark": {"type": "rule", "color": "#999999", "strokeWidth": 5, "opacity": 0.9},
       "encoding": {"x": {"field": "x1", "type": "quantitative"}, "y": {"field": "y1", "type": "quantitative"}, "x2": {"field": "x2"}, "y2": {"field": "y2"}}},
      {"data": {"name": "annot"},
       "mark": {"type": "text", "align": "left", "baseline": "middle", "fontSize": 41.7, "color": "black", "font": "DejaVu Sans"},
       "encoding": {"x": {"field": "tx", "type": "quantitative"}, "y": {"field": "ty", "type": "quantitative"}, "text": {"field": "label"}}}
    ]
  },
  {
    "title": {"text": "offset spine shapes \u00a0(sitting, perplexity 30), grouped by cluster", "baseline": "bottom", "offset": -42},
    "spacing": 84,
    "bounds": "flush",
    "hconcat": [
      {
        "width": 491, "height": 923,
        "title": {"text": "cluster ID 0 |\u00a0 78", "baseline": "bottom", "offset": -27},
        "layer": [
          {"data": {"name": "polys"}, "transform": [{"filter": "datum.cl == 0 && datum.b == 'light'"}],
           "mark": {"type": "line", "interpolate": "linear-closed", "fill": "#000000", "fillOpacity": 0.2, "strokeOpacity": 0, "strokeWidth": 0, "clip": true},
           "encoding": {
             "y": {"field": "y", "type": "quantitative", "scale": {"domain": [-6, 21], "nice": false, "zero": false}, "axis": {"values": [-5,0,5,10,15,20], "grid": true, "title": "y axis in [cm]"}},
             "x": {"field": "x", "type": "quantitative", "scale": {"domain": [-9.9, 7.17], "nice": false, "zero": false}, "axis": {"values": [-5,0,5], "grid": true, "title": "x axis in [cm]"}},
             "order": {"field": "k", "type": "quantitative"}}},
          {"data": {"name": "polys"}, "transform": [{"filter": "datum.cl == 0 && datum.b == 'mass'"}],
           "mark": {"type": "line", "interpolate": "linear-closed", "fill": "#34489b", "fillOpacity": 0.3, "strokeOpacity": 0, "strokeWidth": 0, "clip": true},
           "encoding": {"y": {"field": "y", "type": "quantitative"}, "x": {"field": "x", "type": "quantitative"}, "order": {"field": "k", "type": "quantitative"}}},
          {"data": {"name": "spines"}, "transform": [{"filter": "datum.cl == 0"}],
           "mark": {"type": "line", "color": "#34489b", "opacity": 0.5, "strokeWidth": 4.5, "clip": true, "point": {"filled": true, "size": 150, "color": "#34489b", "opacity": 0.5}},
           "encoding": {"x": {"field": "x", "type": "quantitative"}, "y": {"field": "y", "type": "quantitative"}, "detail": {"field": "s"}, "order": {"field": "i", "type": "quantitative"}}},
          {"data": {"name": "polys"}, "transform": [{"filter": "datum.cl == 0 && datum.b == 'dark'"}],
           "mark": {"type": "line", "interpolate": "linear-closed", "fill": "#777777", "fillOpacity": 0.8, "strokeOpacity": 0, "strokeWidth": 0, "clip": true},
           "encoding": {"y": {"field": "y", "type": "quantitative"}, "x": {"field": "x", "type": "quantitative"}, "order": {"field": "k", "type": "quantitative"}}},
          {"data": {"values": [{}]}, "mark": {"type": "rule", "color": "black", "strokeWidth": 6, "clip": true}, "encoding": {"x": {"datum": 0}}},
          {"data": {"name": "means"}, "transform": [{"filter": "datum.cl == 0"}],
           "mark": {"type": "circle", "color": "#ff7f0e", "opacity": 1, "size": 250, "clip": true},
           "encoding": {"x": {"field": "x", "type": "quantitative"}, "y": {"field": "y", "type": "quantitative"}}}
        ]
      },
      {
        "width": 491, "height": 923,
        "title": {"text": "cluster ID 1 |\u00a0 48", "baseline": "bottom", "offset": -27},
        "layer": [
          {"data": {"name": "polys"}, "transform": [{"filter": "datum.cl == 1 && datum.b == 'light'"}],
           "mark": {"type": "line", "interpolate": "linear-closed", "fill": "#000000", "fillOpacity": 0.2, "strokeOpacity": 0, "strokeWidth": 0, "clip": true},
           "encoding": {
             "y": {"field": "y", "type": "quantitative", "scale": {"domain": [-6, 21], "nice": false, "zero": false}, "axis": {"values": [-5,0,5,10,15,20], "grid": true, "labels": false, "title": null}},
             "x": {"field": "x", "type": "quantitative", "scale": {"domain": [-7, 10], "nice": false, "zero": false}, "axis": {"values": [-5,0,5,10], "grid": true, "title": "x axis in [cm]"}},
             "order": {"field": "k", "type": "quantitative"}}},
          {"data": {"name": "polys"}, "transform": [{"filter": "datum.cl == 1 && datum.b == 'mass'"}],
           "mark": {"type": "line", "interpolate": "linear-closed", "fill": "#4a7dbf", "fillOpacity": 0.2, "strokeOpacity": 0, "strokeWidth": 0, "clip": true},
           "encoding": {"y": {"field": "y", "type": "quantitative"}, "x": {"field": "x", "type": "quantitative"}, "order": {"field": "k", "type": "quantitative"}}},
          {"data": {"name": "spines"}, "transform": [{"filter": "datum.cl == 1"}],
           "mark": {"type": "line", "color": "#4a7dbf", "opacity": 0.35, "strokeWidth": 4.5, "clip": true, "point": {"filled": true, "size": 150, "color": "#4a7dbf", "opacity": 0.35}},
           "encoding": {"x": {"field": "x", "type": "quantitative"}, "y": {"field": "y", "type": "quantitative"}, "detail": {"field": "s"}, "order": {"field": "i", "type": "quantitative"}}},
          {"data": {"name": "polys"}, "transform": [{"filter": "datum.cl == 1 && datum.b == 'dark'"}],
           "mark": {"type": "line", "interpolate": "linear-closed", "fill": "#777777", "fillOpacity": 0.8, "strokeOpacity": 0, "strokeWidth": 0, "clip": true},
           "encoding": {"y": {"field": "y", "type": "quantitative"}, "x": {"field": "x", "type": "quantitative"}, "order": {"field": "k", "type": "quantitative"}}},
          {"data": {"values": [{}]}, "mark": {"type": "rule", "color": "black", "strokeWidth": 6, "clip": true}, "encoding": {"x": {"datum": 0}}},
          {"data": {"name": "means"}, "transform": [{"filter": "datum.cl == 1"}],
           "mark": {"type": "circle", "color": "#ff7f0e", "opacity": 1, "size": 250, "clip": true},
           "encoding": {"x": {"field": "x", "type": "quantitative"}, "y": {"field": "y", "type": "quantitative"}}}
        ]
      },
      {
        "width": 491, "height": 923,
        "title": {"text": "cluster ID 2 |\u00a0 38", "baseline": "bottom", "offset": -27},
        "layer": [
          {"data": {"name": "polys"}, "transform": [{"filter": "datum.cl == 2 && datum.b == 'light'"}],
           "mark": {"type": "line", "interpolate": "linear-closed", "fill": "#000000", "fillOpacity": 0.2, "strokeOpacity": 0, "strokeWidth": 0, "clip": true},
           "encoding": {
             "y": {"field": "y", "type": "quantitative", "scale": {"domain": [-6, 21], "nice": false, "zero": false}, "axis": {"values": [-5,0,5,10,15,20], "grid": true, "labels": false, "title": null}},
             "x": {"field": "x", "type": "quantitative", "scale": {"domain": [-9.63, 7.48], "nice": false, "zero": false}, "axis": {"values": [-5,0,5], "grid": true, "title": "x axis in [cm]"}},
             "order": {"field": "k", "type": "quantitative"}}},
          {"data": {"name": "polys"}, "transform": [{"filter": "datum.cl == 2 && datum.b == 'mass'"}],
           "mark": {"type": "line", "interpolate": "linear-closed", "fill": "#fdae61", "fillOpacity": 0.3, "strokeOpacity": 0, "strokeWidth": 0, "clip": true},
           "encoding": {"y": {"field": "y", "type": "quantitative"}, "x": {"field": "x", "type": "quantitative"}, "order": {"field": "k", "type": "quantitative"}}},
          {"data": {"name": "spines"}, "transform": [{"filter": "datum.cl == 2"}],
           "mark": {"type": "line", "color": "#fdae61", "opacity": 0.5, "strokeWidth": 4.5, "clip": true, "point": {"filled": true, "size": 150, "color": "#fdae61", "opacity": 0.5}},
           "encoding": {"x": {"field": "x", "type": "quantitative"}, "y": {"field": "y", "type": "quantitative"}, "detail": {"field": "s"}, "order": {"field": "i", "type": "quantitative"}}},
          {"data": {"name": "polys"}, "transform": [{"filter": "datum.cl == 2 && datum.b == 'dark'"}],
           "mark": {"type": "line", "interpolate": "linear-closed", "fill": "#777777", "fillOpacity": 0.8, "strokeOpacity": 0, "strokeWidth": 0, "clip": true},
           "encoding": {"y": {"field": "y", "type": "quantitative"}, "x": {"field": "x", "type": "quantitative"}, "order": {"field": "k", "type": "quantitative"}}},
          {"data": {"values": [{}]}, "mark": {"type": "rule", "color": "black", "strokeWidth": 6, "clip": true}, "encoding": {"x": {"datum": 0}}},
          {"data": {"name": "means"}, "transform": [{"filter": "datum.cl == 2"}],
           "mark": {"type": "circle", "color": "#ff7f0e", "opacity": 1, "size": 250, "clip": true},
           "encoding": {"x": {"field": "x", "type": "quantitative"}, "y": {"field": "y", "type": "quantitative"}}}
        ]
      },
      {
        "width": 491, "height": 923,
        "title": {"text": "cluster ID 3 | 218", "baseline": "bottom", "offset": -27},
        "layer": [
          {"data": {"name": "polys"}, "transform": [{"filter": "datum.cl == 3 && datum.b == 'light'"}],
           "mark": {"type": "line", "interpolate": "linear-closed", "fill": "#000000", "fillOpacity": 0.2, "strokeOpacity": 0, "strokeWidth": 0, "clip": true},
           "encoding": {
             "y": {"field": "y", "type": "quantitative", "scale": {"domain": [-6, 21], "nice": false, "zero": false}, "axis": {"values": [-5,0,5,10,15,20], "grid": true, "labels": false, "title": null}},
             "x": {"field": "x", "type": "quantitative", "scale": {"domain": [-7.03, 10], "nice": false, "zero": false}, "axis": {"values": [-5,0,5,10], "grid": true, "title": "x axis in [cm]"}},
             "order": {"field": "k", "type": "quantitative"}}},
          {"data": {"name": "polys"}, "transform": [{"filter": "datum.cl == 3 && datum.b == 'mass'"}],
           "mark": {"type": "line", "interpolate": "linear-closed", "fill": "#e8583a", "fillOpacity": 0.27, "strokeOpacity": 0, "strokeWidth": 0, "clip": true},
           "encoding": {"y": {"field": "y", "type": "quantitative"}, "x": {"field": "x", "type": "quantitative"}, "order": {"field": "k", "type": "quantitative"}}},
          {"data": {"name": "spines"}, "transform": [{"filter": "datum.cl == 3"}],
           "mark": {"type": "line", "color": "#e8583a", "opacity": 0.6, "strokeWidth": 4.5, "clip": true, "point": {"filled": true, "size": 150, "color": "#e8583a", "opacity": 0.6}},
           "encoding": {"x": {"field": "x", "type": "quantitative"}, "y": {"field": "y", "type": "quantitative"}, "detail": {"field": "s"}, "order": {"field": "i", "type": "quantitative"}}},
          {"data": {"name": "polys"}, "transform": [{"filter": "datum.cl == 3 && datum.b == 'dark'"}],
           "mark": {"type": "line", "interpolate": "linear-closed", "fill": "#777777", "fillOpacity": 0.8, "strokeOpacity": 0, "strokeWidth": 0, "clip": true},
           "encoding": {"y": {"field": "y", "type": "quantitative"}, "x": {"field": "x", "type": "quantitative"}, "order": {"field": "k", "type": "quantitative"}}},
          {"data": {"values": [{}]}, "mark": {"type": "rule", "color": "black", "strokeWidth": 6, "clip": true}, "encoding": {"x": {"datum": 0}}},
          {"data": {"name": "means"}, "transform": [{"filter": "datum.cl == 3"}],
           "mark": {"type": "circle", "color": "#ff7f0e", "opacity": 1, "size": 250, "clip": true},
           "encoding": {"x": {"field": "x", "type": "quantitative"}, "y": {"field": "y", "type": "quantitative"}}}
        ]
      }
    ]
  }
]
}
